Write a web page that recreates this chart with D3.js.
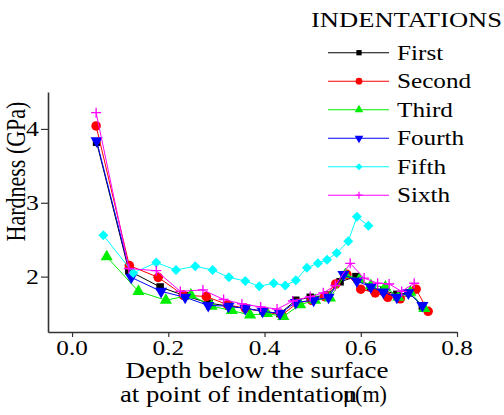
<!DOCTYPE html>
<html>
<head>
<meta charset="utf-8">
<script src="https://cdn.jsdelivr.net/npm/d3@7"></script>
<style>
  body { margin: 0; background: #fff; }
  text { font-family: "Liberation Serif", "Times New Roman", serif; fill: #000; }
</style>
</head>
<body>
<div id="chart"></div>
<script>
// Data
const seriesNames = ["First", "Second", "Third", "Fourth", "Fifth", "Sixth"];

const firstX  = [0.051, 0.118, 0.183, 0.235, 0.285, 0.326, 0.362, 0.397, 0.432, 0.465, 0.495, 0.531, 0.557, 0.590, 0.620, 0.648, 0.675, 0.700, 0.728];
const firstY  = [3.82, 2.08, 1.86, 1.74, 1.64, 1.60, 1.57, 1.53, 1.50, 1.68, 1.72, 1.75, 1.93, 2.00, 1.86, 1.81, 1.76, 1.78, 1.60];

const secondX = [0.050, 0.119, 0.179, 0.231, 0.279, 0.323, 0.360, 0.401, 0.436, 0.468, 0.498, 0.525, 0.548, 0.571, 0.600, 0.630, 0.656, 0.682, 0.715, 0.740];
const secondY = [4.04, 2.15, 1.99, 1.75, 1.73, 1.62, 1.57, 1.52, 1.48, 1.64, 1.68, 1.73, 1.90, 2.03, 1.83, 1.78, 1.72, 1.70, 1.83, 1.53];

const thirdX  = [0.072, 0.138, 0.195, 0.247, 0.290, 0.332, 0.370, 0.405, 0.439, 0.474, 0.505, 0.536, 0.568, 0.597, 0.621, 0.651, 0.678, 0.703, 0.732];
const thirdY  = [2.27, 1.80, 1.68, 1.75, 1.60, 1.54, 1.48, 1.50, 1.46, 1.62, 1.68, 1.71, 2.03, 1.96, 1.88, 1.86, 1.72, 1.79, 1.57];

const fourthX = [0.051, 0.123, 0.185, 0.235, 0.283, 0.325, 0.360, 0.396, 0.432, 0.465, 0.502, 0.533, 0.564, 0.592, 0.621, 0.647, 0.675, 0.699, 0.728];
const fourthY = [3.84, 1.99, 1.80, 1.72, 1.61, 1.60, 1.57, 1.53, 1.50, 1.65, 1.68, 1.72, 2.03, 1.94, 1.86, 1.79, 1.72, 1.78, 1.61];

const fifthX  = [0.065, 0.127, 0.175, 0.216, 0.256, 0.292, 0.326, 0.360, 0.389, 0.419, 0.443, 0.465, 0.488, 0.511, 0.530, 0.550, 0.574, 0.592, 0.616];
const fifthY  = [2.56, 2.05, 2.19, 2.09, 2.14, 2.09, 1.99, 1.94, 1.87, 1.91, 1.88, 1.95, 2.12, 2.18, 2.23, 2.32, 2.48, 2.81, 2.69];

const sixthX  = [0.050, 0.118, 0.175, 0.225, 0.272, 0.315, 0.353, 0.392, 0.426, 0.459, 0.495, 0.522, 0.547, 0.578, 0.607, 0.635, 0.659, 0.685, 0.711];
const sixthY  = [4.22, 2.11, 2.08, 1.80, 1.82, 1.69, 1.63, 1.59, 1.56, 1.67, 1.73, 1.78, 1.88, 2.18, 1.98, 1.91, 1.90, 1.80, 1.91];

const xTicks = [0.0, 0.2, 0.4, 0.6, 0.8];
const yTicks = [2, 3, 4];

const colors = ["#000000", "#ff0000", "#00ee00", "#0000ff", "#00ffff", "#ff00ff"];

const series = [
    [firstX, firstY], [secondX, secondY], [thirdX, thirdY],
    [fourthX, fourthY], [fifthX, fifthY], [sixthX, sixthY]
].map(([xs, ys], i) => ({
    name: seriesNames[i],
    color: colors[i],
    values: xs.map((x, j) => ({ x: x, y: ys[j] }))
}));

const W = 504, H = 415;
const margin = { top: 92, right: 47, bottom: 83, left: 48 };
const SX = 1.2; // the original text is stretched sideways

const svg = d3.select("#chart").append("svg")
    .attr("width", W)
    .attr("height", H);

const x = d3.scaleLinear().domain([-0.05, 0.8]).range([margin.left, W - margin.right]);
const y = d3.scaleLinear().domain([1.25, 4.5]).range([H - margin.bottom, margin.top]);

function stext(px, py, str, size, anchor) {
    return svg.append("text")
        .attr("transform", `translate(${px},${py}) scale(${SX},1)`)
        .attr("text-anchor", anchor || "start")
        .style("font-size", size + "px")
        .text(str);
}

// marker shapes
function marker(i, s) {
    const k = s || 1;
    if (i === 0) return d3.symbol().type(d3.symbolSquare).size(56 * k)();
    if (i === 1) return d3.symbol().type(d3.symbolCircle).size(72 * k)();
    if (i === 2 || i === 3) return d3.symbol().type(d3.symbolTriangle).size(64 * k)();
    const r = 5 * Math.sqrt(k);
    if (i === 4) return `M0,${-r}L${r},0L0,${r}L${-r},0Z`;
    return `M${-r},0H${r}M0,${-r}V${r}`;
}

// Axes
const xAxis = svg.append("g")
    .attr("transform", `translate(0,${H - margin.bottom})`)
    .call(d3.axisBottom(x).tickValues(xTicks).tickFormat(d3.format(".1f")).tickSize(5).tickSizeOuter(0));
const yAxis = svg.append("g")
    .attr("transform", `translate(${margin.left},0)`)
    .call(d3.axisLeft(y).tickValues(yTicks).tickFormat(d3.format("d")).tickSize(7).tickSizeOuter(0));

[xAxis, yAxis].forEach(a => {
    a.select(".domain").attr("stroke", "#333").attr("stroke-width", 1.6);
    a.selectAll(".tick line").attr("stroke", "#333").attr("stroke-width", 1.2);
    a.selectAll(".tick text").remove();
});

xTicks.forEach(t => stext(x(t), 355, d3.format(".1f")(t), 21, "middle"));
yTicks.forEach(t => stext(39, y(t) + 7.5, String(t), 21.5, "end"));

// Lines and markers
const line = d3.line().x(d => x(d.x)).y(d => y(d.y));

series.forEach((s, i) => {
    const g = svg.append("g").attr("class", "series");
    g.append("path")
        .datum(s.values)
        .attr("d", line)
        .attr("fill", "none")
        .attr("stroke", s.color)
        .attr("stroke-width", 1);
    g.selectAll(".pt")
        .data(s.values)
        .enter()
        .append("path")
        .attr("class", "pt")
        .attr("transform", d => `translate(${x(d.x)},${y(d.y)})` + (i === 3 ? " rotate(180)" : ""))
        .attr("d", marker(i))
        .attr("fill", i === 5 ? "none" : s.color)
        .attr("stroke", s.color)
        .attr("stroke-width", i === 5 ? 1.3 : 0);
});

// Axis titles
svg.append("text")
    .attr("transform", `translate(25,${(100 + 243) / 2}) rotate(-90) scale(1,${SX})`)
    .attr("text-anchor", "middle")
    .style("font-size", "22px")
    .text("Hardness (GPa)");

stext(257, 378, "Depth below the surface", 22.5, "middle");
svg.append("text")
    .attr("x", 120).attr("y", 402)
    .attr("textLength", 237).attr("lengthAdjust", "spacingAndGlyphs")
    .style("font-size", "22.5px")
    .text("at point of indentation");
svg.append("text")
    .attr("x", 343).attr("y", 402)
    .style("font-size", "22px")
    .text("\u03bc");
svg.append("text")
    .attr("x", 355).attr("y", 402)
    .attr("textLength", 32).attr("lengthAdjust", "spacingAndGlyphs")
    .style("font-size", "22.5px")
    .text("(m)");

// Legend
svg.append("text")
    .attr("x", 311).attr("y", 27)
    .attr("textLength", 191).attr("lengthAdjust", "spacingAndGlyphs")
    .style("font-size", "20px")
    .text("INDENTATIONS");

const legend = svg.append("g").attr("class", "legend");
series.forEach((s, i) => {
    const ly = 52.7 + i * 28.5;
    legend.append("line")
        .attr("x1", 328).attr("x2", 389)
        .attr("y1", ly).attr("y2", ly)
        .attr("stroke", s.color)
        .attr("stroke-width", 1.1);
    legend.append("path")
        .attr("transform", `translate(359,${ly})` + (i === 3 ? " rotate(180)" : ""))
        .attr("d", marker(i, 0.5))
        .attr("fill", i === 5 ? "none" : s.color)
        .attr("stroke", s.color)
        .attr("stroke-width", i === 5 ? 1.2 : 0);
    stext(397, ly + 7, s.name, 21, "start");
});
</script>
</body>
</html>
